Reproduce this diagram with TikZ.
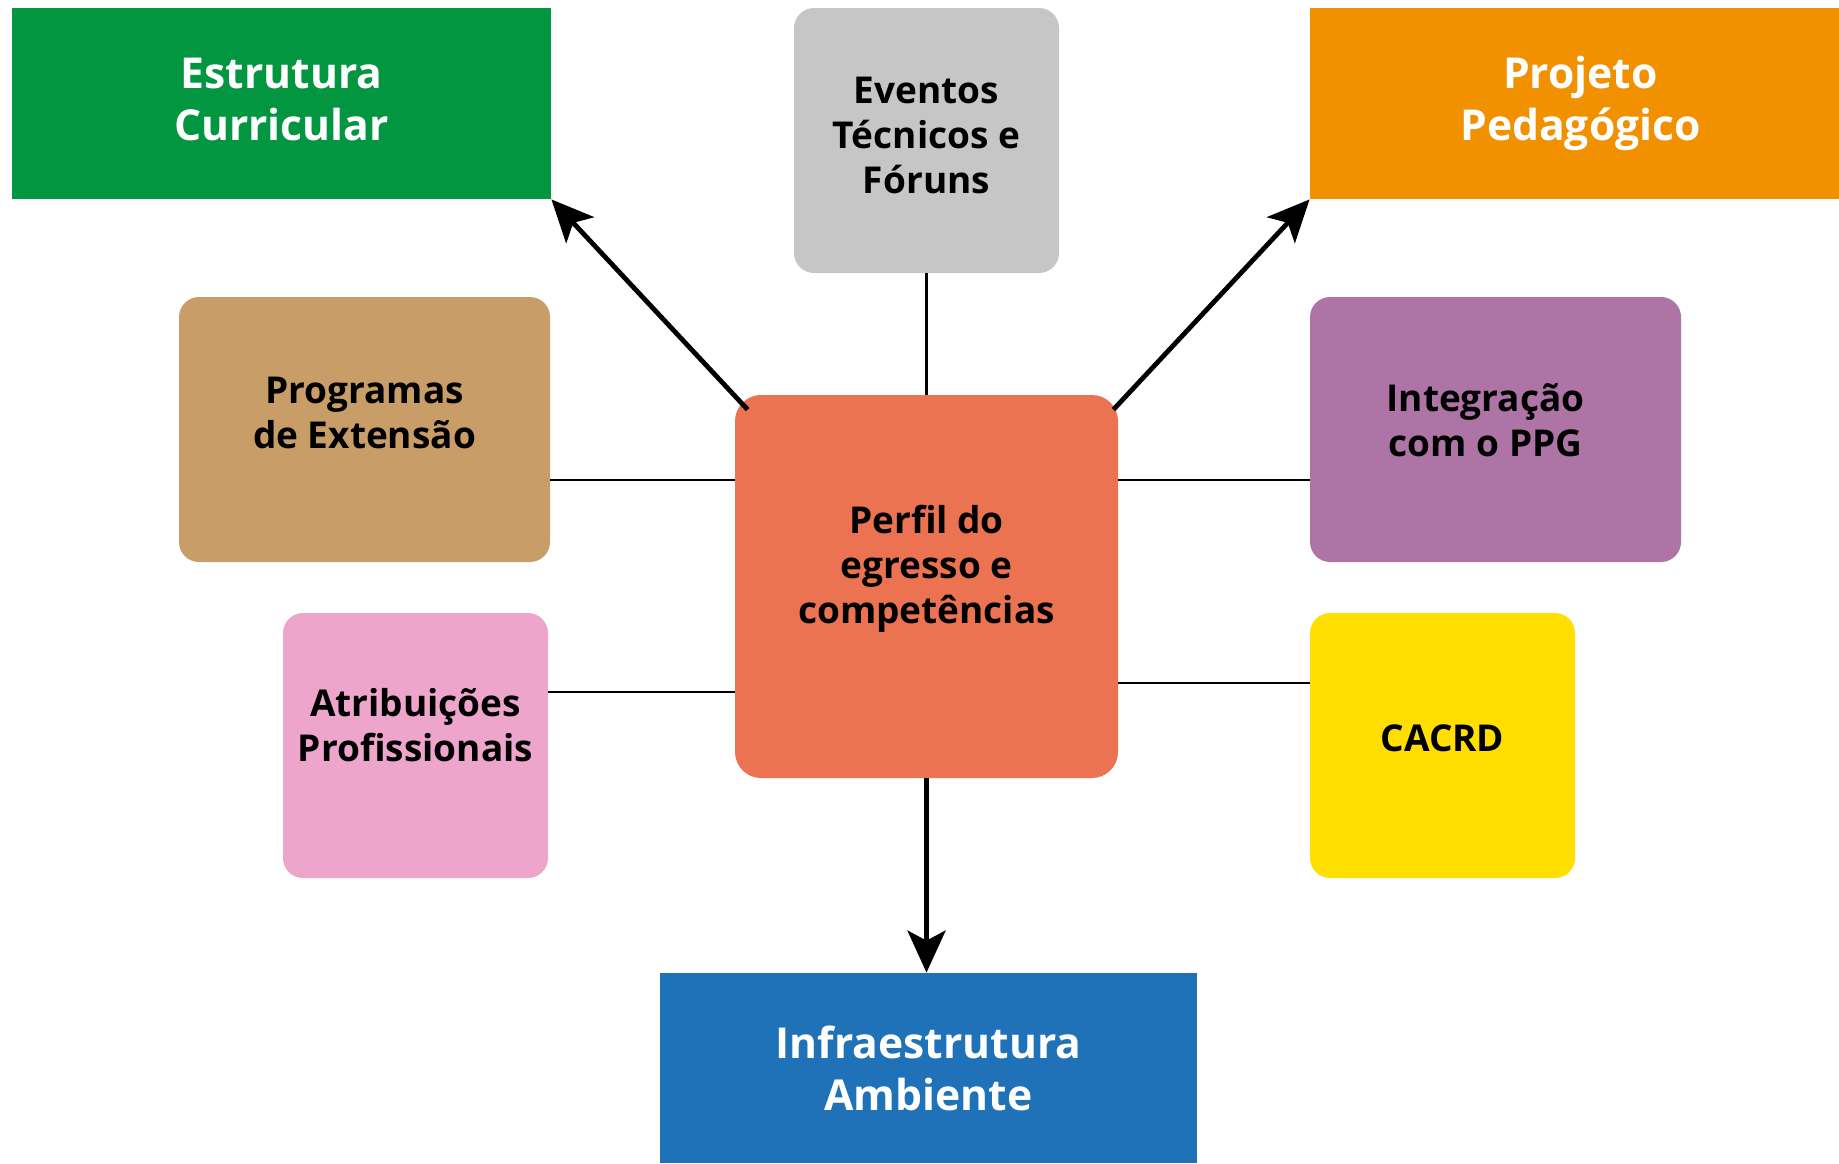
\documentclass[tikz,border=0pt]{standalone}
\usepackage{fontspec}
\setmainfont{Open Sans}
\usetikzlibrary{arrows.meta}

\definecolor{verde}{RGB}{2,150,64}
\definecolor{cinza}{RGB}{198,198,198}
\definecolor{laranja}{RGB}{242,145,0}
\definecolor{areia}{RGB}{200,157,103}
\definecolor{lilas}{RGB}{174,116,166}
\definecolor{coral}{RGB}{236,115,81}
\definecolor{rosa}{RGB}{237,165,203}
\definecolor{amarelo}{RGB}{255,222,0}
\definecolor{azul}{RGB}{31,113,184}

\tikzset{
  bloco/.style={inner sep=0pt},
  caixa/.style={inner sep=0pt, rounded corners=10pt},
  txtbranco/.style={align=center, text=white, inner sep=0pt,
    font=\bfseries\fontsize{21.3}{26}\selectfont},
  txtpreto/.style={align=center, text=black, inner sep=0pt,
    font=\bfseries\fontsize{18.5}{22.5}\selectfont},
  liga/.style={line width=1.1pt},
  seta/.style={line width=2.4pt, -{Stealth[length=21pt,width=19pt,inset=5pt]}}
}

\begin{document}
\begin{tikzpicture}[x=0.5pt,y=-0.5pt]
  \useasboundingbox (0,0) rectangle (1839,1163);
  % caixas
  \node[bloco, fill=verde, minimum width=269.5pt, minimum height=95.5pt] %
    (est) at (281.5,103.5) {};
  \node[caixa, fill=cinza, minimum width=132.5pt, minimum height=132.5pt] %
    (evt) at (926.5,140.5) {};
  \node[bloco, fill=laranja, minimum width=264.5pt, minimum height=95.5pt] %
    (proj) at (1574.5,103.5) {};
  \node[caixa, fill=areia, minimum width=185.5pt, minimum height=132.5pt] %
    (prog) at (364.5,429.5) {};
  \node[caixa, fill=lilas, minimum width=185.5pt, minimum height=132.5pt] %
    (integ) at (1495.5,429.5) {};
  \node[caixa, fill=coral, minimum width=191.5pt, minimum height=191.5pt, %
    rounded corners=13pt] (perfil) at (926.5,586.5) {};
  \node[caixa, fill=rosa, minimum width=132.5pt, minimum height=132.5pt] %
    (atrib) at (415.5,745.5) {};
  \node[caixa, fill=amarelo, minimum width=132.5pt, minimum height=132.5pt] %
    (cacrd) at (1442.5,745.5) {};
  \node[bloco, fill=azul, minimum width=268.5pt, minimum height=95pt] %
    (infra) at (928.5,1068) {};
  % textos
  \node[txtbranco] (est-t) at ([yshift=2pt]est.center) {Estrutura\\Curricular};
  \node[txtpreto] (evt-t) at ([yshift=2.5pt]evt.center) {Eventos\\Técnicos e\\Fóruns};
  \node[txtbranco] (proj-t) at ([xshift=3pt]proj.center) {Projeto\\Pedagógico};
  \node[txtpreto] (prog-t) at ([yshift=8.5pt]prog.center) {Programas\\de Extensão};
  \node[txtpreto] (integ-t) at ([xshift=-5pt,yshift=4.5pt]integ.center) {Integração\\com o PPG};
  \node[txtpreto] (perfil-t) at ([yshift=9pt]perfil.center) {Perfil do\\egresso e\\competências};
  \node[txtpreto] (atrib-t) at ([yshift=10pt]atrib.center) {Atribuições\\Profissionais};
  \node[txtpreto] (cacrd-t) at ([yshift=3.5pt]cacrd.center) {CACRD};
  \node[txtbranco] (infra-t) at (infra.center) {Infraestrutura\\Ambiente};
  % ligacoes
  \coordinate (linha1) at (0,480);
  \coordinate (linha2) at (0,692);
  \coordinate (linha3) at (0,683);
  \draw[liga] (evt.south) -- (perfil.north);
  \draw[liga] (prog.east |- linha1) -- (perfil.west |- linha1);
  \draw[liga] (perfil.east |- linha1) -- (integ.west |- linha1);
  \draw[liga] (atrib.east |- linha2) -- (perfil.west |- linha2);
  \draw[liga] (perfil.east |- linha3) -- (cacrd.west |- linha3);
  \draw[seta] ([xshift=6.5pt,yshift=-7.5pt]perfil.north west) -- (est.south east);
  \draw[seta] ([xshift=-2.5pt,yshift=-7.5pt]perfil.north east) -- (proj.south west);
  \draw[seta] (perfil.south) -- (perfil.south |- infra.north);
\end{tikzpicture}
\end{document}
